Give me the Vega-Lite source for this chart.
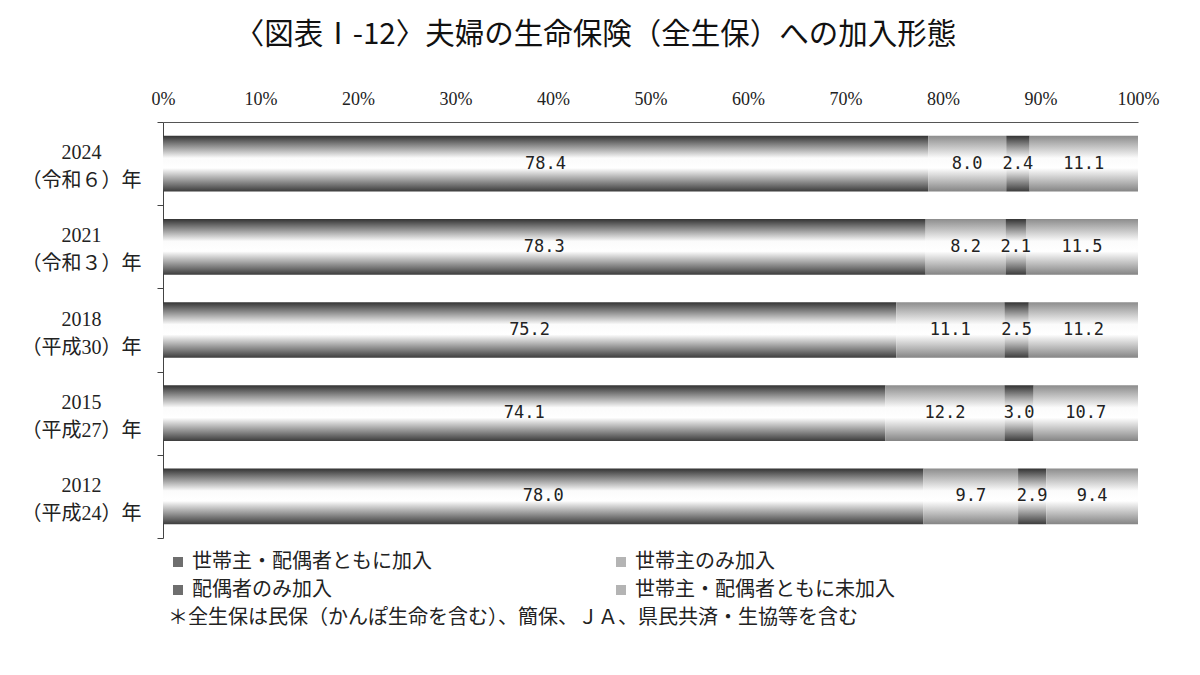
{
  "$schema": "https://vega.github.io/schema/vega-lite/v6.json",
  "autosize": {"type": "none"},
  "width": 975,
  "height": 416,
  "padding": {"left": 163, "top": 122, "right": 62, "bottom": 137},
  "title": {
    "text": "〈図表Ⅰ-12〉夫婦の生命保険（全生保）への加入形態",
    "font": "Noto Sans CJK JP",
    "fontSize": 29.5,
    "fontWeight": "normal",
    "color": "#111",
    "anchor": "middle",
    "dx": -55,
    "offset": 40
  },
  "data": {
    "values": [
      {"year": "2024（令和６）年", "type": "世帯主・配偶者ともに加入", "order": 1, "pct": 78.4},
      {"year": "2024（令和６）年", "type": "世帯主のみ加入", "order": 2, "pct": 8.0},
      {"year": "2024（令和６）年", "type": "配偶者のみ加入", "order": 3, "pct": 2.4},
      {"year": "2024（令和６）年", "type": "世帯主・配偶者ともに未加入", "order": 4, "pct": 11.1},
      {"year": "2021（令和３）年", "type": "世帯主・配偶者ともに加入", "order": 1, "pct": 78.3},
      {"year": "2021（令和３）年", "type": "世帯主のみ加入", "order": 2, "pct": 8.2},
      {"year": "2021（令和３）年", "type": "配偶者のみ加入", "order": 3, "pct": 2.1},
      {"year": "2021（令和３）年", "type": "世帯主・配偶者ともに未加入", "order": 4, "pct": 11.5},
      {"year": "2018（平成30）年", "type": "世帯主・配偶者ともに加入", "order": 1, "pct": 75.2},
      {"year": "2018（平成30）年", "type": "世帯主のみ加入", "order": 2, "pct": 11.1},
      {"year": "2018（平成30）年", "type": "配偶者のみ加入", "order": 3, "pct": 2.5},
      {"year": "2018（平成30）年", "type": "世帯主・配偶者ともに未加入", "order": 4, "pct": 11.2},
      {"year": "2015（平成27）年", "type": "世帯主・配偶者ともに加入", "order": 1, "pct": 74.1},
      {"year": "2015（平成27）年", "type": "世帯主のみ加入", "order": 2, "pct": 12.2},
      {"year": "2015（平成27）年", "type": "配偶者のみ加入", "order": 3, "pct": 3.0},
      {"year": "2015（平成27）年", "type": "世帯主・配偶者ともに未加入", "order": 4, "pct": 10.7},
      {"year": "2012（平成24）年", "type": "世帯主・配偶者ともに加入", "order": 1, "pct": 78.0},
      {"year": "2012（平成24）年", "type": "世帯主のみ加入", "order": 2, "pct": 9.7},
      {"year": "2012（平成24）年", "type": "配偶者のみ加入", "order": 3, "pct": 2.9},
      {"year": "2012（平成24）年", "type": "世帯主・配偶者ともに未加入", "order": 4, "pct": 9.4}
    ]
  },
  "transform": [
    {
      "stack": "pct",
      "groupby": ["year"],
      "sort": [{"field": "order", "order": "ascending"}],
      "offset": "normalize",
      "as": ["x0", "x1"]
    },
    {"calculate": "(datum.x0 + datum.x1) / 2", "as": "xmid"}
  ],
  "encoding": {
    "y": {
      "field": "year",
      "type": "nominal",
      "sort": null,
      "title": null,
      "scale": {"paddingInner": 0, "paddingOuter": 0},
      "axis": {
        "labelExpr": "datum.value ? [substring(datum.value, 0, 4), substring(datum.value, 4)] : ''",
        "labelFont": "Liberation Serif, Noto Sans CJK JP",
        "labelFontSize": 20,
        "labelColor": "#222",
        "labelAlign": "center",
        "labelLineHeight": 28,
        "labelPadding": 76,
        "labelOffset": -11,
        "tickBand": "extent",
        "tickSize": 6,
        "tickColor": "#444",
        "domainColor": "#444"
      }
    }
  },
  "layer": [
    {
      "mark": {"type": "bar", "strokeWidth": 0, "height": {"band": 0.67}},
      "encoding": {
        "x": {
          "field": "x0",
          "type": "quantitative",
          "title": null,
          "scale": {"domain": [0, 1]},
          "axis": {
            "orient": "top",
            "format": ".0%",
            "tickCount": 10,
            "ticks": false,
            "grid": false,
            "labelFont": "Liberation Serif",
            "labelFontSize": 18,
            "labelColor": "#222",
            "labelPadding": 14,
            "domainColor": "#555",
            "labelFlush": false
          }
        },
        "x2": {"field": "x1"},
        "color": {
          "condition": [
            {
              "test": "datum.order == 1 || datum.order == 3",
              "value": {"gradient": "linear", "x1": 0, "y1": 0, "x2": 0, "y2": 1, "stops": [{"offset": 0, "color": "#333333"}, {"offset": 0.4, "color": "#fbfbfb"}, {"offset": 0.58, "color": "#ffffff"}, {"offset": 1, "color": "#3c3c3c"}]}
            },
            {
              "test": "datum.order == 2 || datum.order == 4",
              "value": {"gradient": "linear", "x1": 0, "y1": 0, "x2": 0, "y2": 1, "stops": [{"offset": 0, "color": "#8c8c8c"}, {"offset": 0.4, "color": "#fbfbfb"}, {"offset": 0.58, "color": "#ffffff"}, {"offset": 1, "color": "#848484"}]}
            }
          ],
          "field": "type",
          "type": "nominal",
          "sort": ["世帯主・配偶者ともに加入", "世帯主のみ加入", "配偶者のみ加入", "世帯主・配偶者ともに未加入"],
          "scale": {
            "domain": ["世帯主・配偶者ともに加入", "世帯主のみ加入", "配偶者のみ加入", "世帯主・配偶者ともに未加入"],
            "range": ["#6e6e6e", "#b4b4b4", "#6e6e6e", "#b4b4b4"]
          },
          "legend": {
            "orient": "none",
            "legendX": 5,
            "legendY": 430,
            "columns": 2,
            "direction": "horizontal",
            "columnPadding": 179,
            "rowPadding": 8,
            "symbolType": "square",
            "symbolSize": 100,
            "symbolStrokeWidth": 0,
            "labelFont": "Noto Sans CJK JP",
            "labelFontSize": 20,
            "labelColor": "#222",
            "labelLimit": 400,
            "labelOffset": 4,
            "title": "＊全生保は民保（かんぽ生命を含む）、簡保、ＪＡ、県民共済・生協等を含む",
            "titleOrient": "bottom",
            "titleAnchor": "start",
            "titleFont": "Noto Sans CJK JP",
            "titleFontSize": 20,
            "titleFontWeight": "normal",
            "titleColor": "#222",
            "titleLimit": 1000,
            "titlePadding": 8
          }
        }
      }
    },
    {
      "mark": {"type": "text", "align": "center", "baseline": "middle", "font": "DejaVu Sans Mono", "fontSize": 17, "color": "#222"},
      "encoding": {
        "x": {"field": "xmid", "type": "quantitative"},
        "text": {"field": "pct", "type": "quantitative", "format": ".1f"}
      }
    }
  ],
  "config": {
    "view": {"stroke": null},
    "background": "white"
  }
}
